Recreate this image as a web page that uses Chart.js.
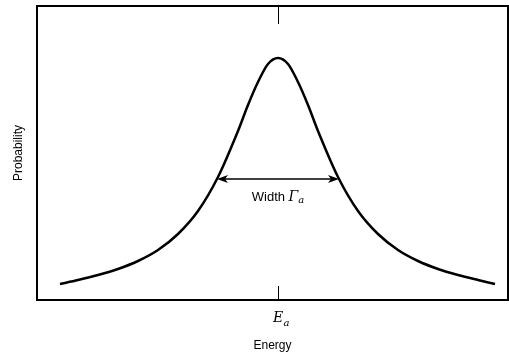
<!DOCTYPE html>
<html>
<head>
<meta charset="utf-8">
<script src="https://cdn.jsdelivr.net/npm/chart.js@4/dist/chart.umd.min.js"></script>
<style>
  body { margin: 0; background: #fff; }
  #wrap { width: 509px; height: 356px; }
</style>
</head>
<body>
<div id="wrap"><canvas id="chart-area"></canvas></div>
<script>
// energy offset from E_a (arbitrary units) and probability
var energy = [-218, -200, -180, -160, -140, -120, -100, -80, -60, -40, -30, -20, -10, 0,
              10, 20, 30, 40, 60, 80, 100, 120, 140, 160, 180, 200, 217];
var probability = [16, 20, 25, 31, 39, 50, 66, 89, 123, 169, 195, 218, 236, 242,
                   236, 218, 195, 169, 123, 89, 66, 50, 39, 31, 25, 20, 16];

var xMin = -241, xMax = 230;
var yMin = 0, yMax = 294;
var tickLabels = ['E'];
var tickSubs = ['a'];
var tickValues = [0];

// width marker at half maximum
var halfMax = 121;
var widthFrom = -61, widthTo = 61;
var widthLabel = 'Width ';

var points = energy.map(function (e, i) { return { x: e, y: probability[i] }; });

var framePlugin = {
  id: 'frame',
  afterDraw: function (chart) {
    var ctx = chart.ctx;
    var a = chart.chartArea;
    var xs = chart.scales.x, ys = chart.scales.y;
    ctx.save();
    ctx.strokeStyle = '#000';
    ctx.fillStyle = '#000';
    ctx.lineWidth = 2;
    ctx.strokeRect(a.left, a.top, a.right - a.left, a.bottom - a.top);

    // inward ticks at E_a, top and bottom, plus the subscript of the tick label
    ctx.lineWidth = 1;
    ctx.font = 'italic 14px "DejaVu Serif", serif';
    var eW = ctx.measureText(tickLabels[0]).width;
    tickValues.forEach(function (v, i) {
      var px = Math.round(xs.getPixelForValue(v)) + 0.5;
      ctx.beginPath();
      ctx.moveTo(px, a.top); ctx.lineTo(px, a.top + 18);
      ctx.moveTo(px, a.bottom); ctx.lineTo(px, a.bottom - 14);
      ctx.stroke();
      ctx.font = 'italic 10px "DejaVu Serif", serif';
      ctx.textAlign = 'left';
      ctx.textBaseline = 'alphabetic';
      ctx.fillText(tickSubs[i], px + eW / 2, a.bottom + 26);
    });

    // double arrow for the width
    var y = ys.getPixelForValue(halfMax);
    var x1 = xs.getPixelForValue(widthFrom), x2 = xs.getPixelForValue(widthTo);
    ctx.lineWidth = 1.5;
    ctx.beginPath();
    ctx.moveTo(x1 + 4, y); ctx.lineTo(x2 - 4, y);
    ctx.stroke();
    ctx.beginPath();
    ctx.moveTo(x1, y); ctx.lineTo(x1 + 11, y - 4); ctx.lineTo(x1 + 8, y); ctx.lineTo(x1 + 11, y + 4); ctx.closePath();
    ctx.fill();
    ctx.beginPath();
    ctx.moveTo(x2, y); ctx.lineTo(x2 - 11, y - 4); ctx.lineTo(x2 - 8, y); ctx.lineTo(x2 - 11, y + 4); ctx.closePath();
    ctx.fill();

    // label under the arrow: "Width Γa"
    var cx = (x1 + x2) / 2;
    var sans = '13px "Liberation Sans", Arial, sans-serif';
    var gam = 'italic 14px "DejaVu Serif", serif';
    var sub = 'italic 10px "DejaVu Serif", serif';
    ctx.font = sans; var w1 = ctx.measureText(widthLabel).width;
    ctx.font = gam; var w2 = ctx.measureText('\u0393').width;
    ctx.font = sub; var w3 = ctx.measureText('a').width;
    var sx = cx - (w1 + w2 + w3) / 2;
    ctx.textAlign = 'left';
    ctx.textBaseline = 'alphabetic';
    var base = y + 22;
    ctx.font = sans; ctx.fillText(widthLabel, sx, base);
    ctx.font = gam; ctx.fillText('\u0393', sx + w1, base);
    ctx.font = sub; ctx.fillText('a', sx + w1 + w2, base + 2);
    ctx.restore();
  }
};

var config = {
  type: 'line',
  data: {
    datasets: [{
      data: points,
      borderColor: '#000',
      borderWidth: 2.5,
      pointRadius: 0,
      fill: false,
      cubicInterpolationMode: 'monotone'
    }]
  },
  options: {
    responsive: true,
    maintainAspectRatio: false,
    animation: false,
    layout: { padding: { top: 6, right: 1, left: 0, bottom: 0 } },
    plugins: { legend: { display: false }, tooltip: { enabled: false } },
    scales: {
      x: {
        type: 'linear',
        min: xMin,
        max: xMax,
        afterBuildTicks: function (scale) {
          scale.ticks = tickValues.map(function (v) { return { value: v }; });
        },
        afterFit: function (scale) { scale.height = 56; },
        grid: { display: false, drawTicks: false },
        border: { display: false },
        ticks: {
          padding: 10,
          color: '#000',
          font: { family: '"DejaVu Serif", serif', style: 'italic', size: 14 },
          callback: function (v, i) { return tickLabels[i]; }
        },
        title: {
          display: true,
          text: 'Energy',
          color: '#000',
          padding: { top: 4, bottom: 3 },
          font: { family: '"Liberation Sans", Arial, sans-serif', size: 12 }
        }
      },
      y: {
        min: yMin,
        max: yMax,
        afterFit: function (scale) { scale.width = 37; },
        grid: { display: false, drawTicks: false },
        border: { display: false },
        ticks: { display: false },
        title: {
          display: true,
          text: 'Probability',
          color: '#000',
          padding: { top: 11, bottom: 0 },
          font: { family: '"Liberation Sans", Arial, sans-serif', size: 12 }
        }
      }
    }
  },
  plugins: [framePlugin]
};

window.onload = function () {
  var ctx = document.getElementById('chart-area').getContext('2d');
  window.myChart = new Chart(ctx, config);
};
</script>
</body>
</html>
